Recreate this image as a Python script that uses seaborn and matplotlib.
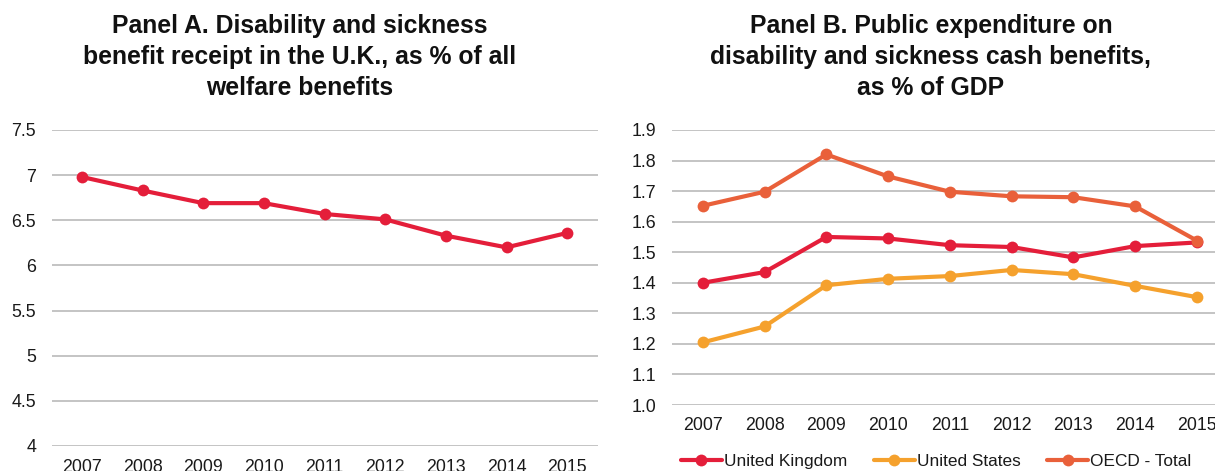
import matplotlib
matplotlib.use("Agg")
import matplotlib.pyplot as plt
import seaborn as sns
import pandas as pd

years = [2007, 2008, 2009, 2010, 2011, 2012, 2013, 2014, 2015]
panel_a_uk = [6.98, 6.83, 6.69, 6.69, 6.57, 6.51, 6.33, 6.20, 6.36]
uk = [1.400, 1.435, 1.550, 1.545, 1.523, 1.517, 1.483, 1.520, 1.532]
us = [1.205, 1.257, 1.392, 1.413, 1.422, 1.442, 1.428, 1.390, 1.353]
oecd = [1.652, 1.698, 1.820, 1.748, 1.698, 1.683, 1.680, 1.650, 1.538]
series_names = ["United Kingdom", "United States", "OECD - Total"]
colors = ["#E41E3A", "#F5A12D", "#E9603A"]
ticks_a = [4, 4.5, 5, 5.5, 6, 6.5, 7, 7.5]
ticks_a_labels = ["4", "4.5", "5", "5.5", "6", "6.5", "7", "7.5"]
ticks_b = [1.0, 1.1, 1.2, 1.3, 1.4, 1.5, 1.6, 1.7, 1.8, 1.9]
ticks_b_labels = ["1.0", "1.1", "1.2", "1.3", "1.4", "1.5", "1.6", "1.7", "1.8", "1.9"]
title_a = "Panel A. Disability and sickness\nbenefit receipt in the U.K., as % of all\nwelfare benefits"
title_b = "Panel B. Public expenditure on\ndisability and sickness cash benefits,\nas % of GDP"

sns.set_theme(style="white")
plt.rcParams["font.family"] = ["Liberation Sans", "DejaVu Sans"]

W, H = 1215, 471
fig = plt.figure(figsize=(W / 100, H / 100), dpi=100)

def px_axes(left, right, top, bottom):
    return fig.add_axes([left / W, 1 - bottom / H, (right - left) / W, (bottom - top) / H])

axA = px_axes(51.5, 597.5, 130, 446)
axB = px_axes(672, 1227.75, 130, 405)

lw = 3.0
ms = 8.5
tick_fs = 12.8
legend_fs = 12.4
grid_c = "#BFBFBF"

dfA = pd.DataFrame({"year": years, "value": panel_a_uk})
sns.lineplot(data=dfA, x="year", y="value", ax=axA, color=colors[0], linewidth=lw,
             marker="o", markersize=ms, markeredgewidth=0, zorder=3)

dfB = pd.DataFrame({
    "year": years * 3,
    "value": uk + us + oecd,
    "series": [series_names[0]] * 9 + [series_names[1]] * 9 + [series_names[2]] * 9,
})
sns.lineplot(data=dfB, x="year", y="value", hue="series", hue_order=series_names,
             palette=colors, ax=axB, linewidth=lw, marker="o", markersize=ms,
             markeredgewidth=0, zorder=3, legend=True)

for ax, ticks, labels, lim in [(axA, ticks_a, ticks_a_labels, (4, 7.5)),
                               (axB, ticks_b, ticks_b_labels, (1.0, 1.9))]:
    ax.set_xlim(2006.5, 2015.5)
    ax.set_ylim(*lim)
    ax.set_yticks(ticks)
    ax.set_yticklabels(labels)
    ax.set_xticks(years)
    ax.set_xticklabels([str(y) for y in years])
    ax.set_xlabel("")
    ax.set_ylabel("")
    for s in ax.spines.values():
        s.set_visible(False)
    ax.grid(axis="y", color=grid_c, linewidth=1.3)
    ax.grid(axis="x", visible=False)
    ax.set_axisbelow(True)
    ax.tick_params(axis="both", length=0, labelsize=tick_fs, colors="#1a1a1a")
    ax.tick_params(axis="y", pad=11)
    ax.tick_params(axis="x", pad=9)
    ax.set_facecolor("none")

handles, lbls = axB.get_legend_handles_labels()
axB.get_legend().remove()
fig.legend(handles, lbls, loc="center", bbox_to_anchor=(936 / W, 1 - 461 / H),
           ncol=3, frameon=False, fontsize=legend_fs, handlelength=2.4,
           handletextpad=0.1, columnspacing=1.55, borderpad=0, labelcolor="#1a1a1a")

fig.text(300 / W, 1 - 57 / H, title_a, ha="center", va="center", fontsize=17.8,
         fontweight="bold", linespacing=1.37, color="#111111")
fig.text(931 / W, 1 - 57 / H, title_b, ha="center", va="center", fontsize=17.8,
         fontweight="bold", linespacing=1.37, color="#111111")

fig.savefig("out.png", dpi=100)
